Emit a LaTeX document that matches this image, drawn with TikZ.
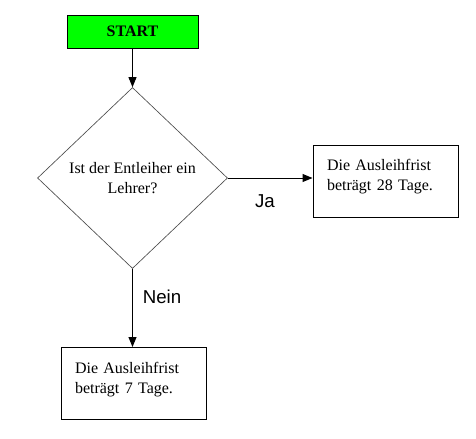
\documentclass[tikz,border=0pt]{standalone}
\usepackage{fontspec}
\setmainfont{Liberation Serif}
\newfontfamily\arialfont{Liberation Sans}
\usetikzlibrary{shapes.geometric,arrows.meta}
\tikzset{
  pfeil/.style={line width=0.75pt,-{Triangle[width=6pt,length=7.5pt]}},
  kasten/.style={draw,line width=0.75pt,rectangle,text width=87.75pt,align=left,
    inner xsep=10.5pt,inner ysep=3pt,minimum width=108.75pt,minimum height=54pt},
  marke/.style={font=\arialfont\fontsize{14pt}{16pt}\selectfont}
}
\begin{document}
\begin{tikzpicture}[x=0.75pt,y=-0.75pt,font=\fontsize{12pt}{15pt}\selectfont]
				\useasboundingbox (0,0) rectangle (476,439);
				% Start
				\node[draw,line width=0.75pt,fill=green,minimum width=98.25pt,minimum height=24.75pt,
				  font=\fontsize{12pt}{15pt}\selectfont\bfseries] (start) at (132.5,31.5) {START};

				% Frage
				\node[diamond,draw=black!70,line width=0.5pt,minimum width=142.5pt,minimum height=135.75pt,
				  align=center,inner sep=0pt] (frage) at (132.5,178) {Ist der Entleiher ein\\Lehrer?};

				% Lehrer
				\node[kasten,text depth=24pt] (lehrer) at (385.5,181) {Die Ausleihfrist\\betr\"agt 28 Tage.};

				% kein Lehrer
				\node[kasten,text depth=24pt] (sonst) at (133.5,383.5) {Die Ausleihfrist\\betr\"agt 7 Tage.};

				% Pfeile
				\draw[pfeil] (start) -- (frage);
				\draw[pfeil] (frage.east) -- (frage.east -| lehrer.west);
				\draw[pfeil] (frage.south) -- (frage.south |- sonst.north);
				\node[marke] (ja) at (265,201) {Ja};
				\node[marke] (nein) at (162,297) {Nein};
			\end{tikzpicture}
\end{document}
